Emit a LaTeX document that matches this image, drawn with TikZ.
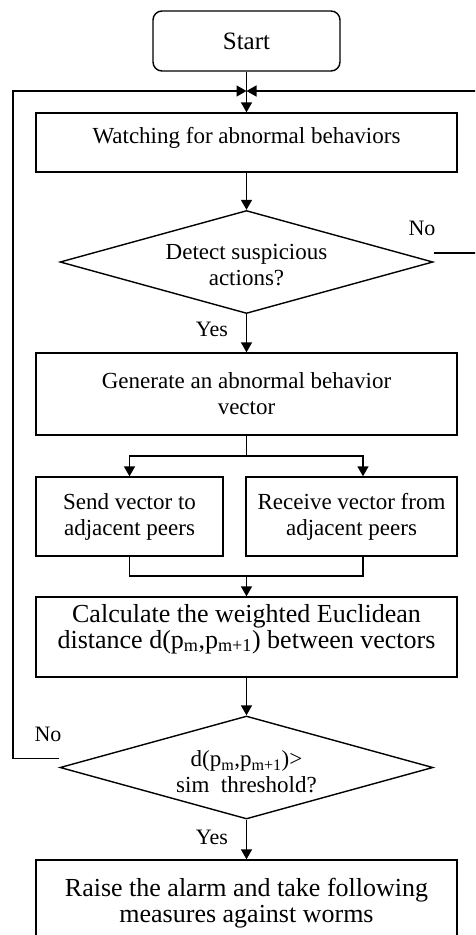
\documentclass[tikz,border=0pt]{standalone}
\usepackage{fontspec}
\setmainfont{Liberation Serif}
\usetikzlibrary{arrows.meta,shapes.geometric}
\begin{document}
\begin{tikzpicture}[x=1pt,y=-1pt,line width=1.4pt,
  box/.style={draw,rectangle,inner sep=0pt,align=center,font=\fontsize{23}{26}\selectfont},
  dia/.style={draw,diamond,inner sep=0pt},
  txt/.style={inner sep=0pt,align=center,font=\fontsize{23}{26}\selectfont},
  big/.style={font=\fontsize{26}{26}\selectfont},
  lbl/.style={inner sep=0pt,font=\fontsize{22}{24}\selectfont},
  arr/.style={-{Triangle[length=10pt,width=11pt]}}]
\clip (0,0) rectangle (475,935);
% nodes
\node[box,rounded corners=9pt,minimum width=187pt,minimum height=60pt,font=\fontsize{25}{28}\selectfont] (start) at (246.5,41) {Start};
\node[box,minimum width=421pt,minimum height=59pt] (watch) at (246.5,142.5) {};
\node[txt] (watcht) at ([yshift=5pt]watch.center) {Watching for abnormal behaviors};
\node[dia,minimum width=373pt,minimum height=103pt] (d1) at (246.5,262) {};
\node[txt] (d1t) at ([yshift=-3pt]d1.center) {Detect suspicious\\actions?};
\node[box,minimum width=421pt,minimum height=82pt] (gen) at (246.5,394) {Generate an abnormal behavior\\vector};
\node[box,minimum width=187pt,minimum height=79pt] (send) at (129.5,516.5) {Send vector to\\adjacent peers};
\node[box,minimum width=211pt,minimum height=79pt] (recv) at (351.5,516.5) {Receive vector from\\adjacent peers};
\node[box,minimum width=421pt,minimum height=80pt] (calc) at (246.5,637) {};
\node[txt,big] (calct) at ([yshift=8pt]calc.center) {Calculate the weighted Euclidean\\distance d(p\textsubscript{m},p\textsubscript{m+1}) between vectors};
\node[dia,minimum width=373pt,minimum height=103pt] (d2) at (246.5,767.5) {};
\node[txt] (d2t) at ([yshift=-4.5pt]d2.center) {d(p\textsubscript{m},p\textsubscript{m+1})>\\sim\ \ threshold?};
\node[box,big,minimum width=421pt,minimum height=86pt] (final) at (246.5,903) {Raise the alarm and take following\\measures against worms};
% labels
\node[lbl] (no1) at (422,228) {No};
\node[lbl] (yes1) at (212,329) {Yes};
\node[lbl] (no2) at (48,734) {No};
\node[lbl] (yes2) at (212,837) {Yes};
% helper coordinates
\coordinate (m) at (246.5,91);
\coordinate (lt) at (13,91);
\coordinate (rt) at (481,91);
\coordinate (sp) at (246.5,456);
\coordinate (spr) at (363,456);
\coordinate (mg) at (246.5,576);
% connectors
\draw[arr] (start) -- (watch);
\draw[arr] (watch) -- (d1);
\draw[arr] (d1) -- (gen);
\draw (gen.south) -- (sp);
\draw[arr] (sp) -| (send.north);
\draw[arr] (sp) -| (spr |- recv.north);
\draw (send.south) |- (mg);
\draw (spr |- recv.south) |- (mg);
\draw[arr] (mg) -- (calc);
\draw[arr] (calc) -- (d2);
\draw[arr] (d2) -- (final);
\draw[arr] ([yshift=9pt]d2.west) -| (lt) -- (m);
\draw[arr] ([yshift=9pt]d1.east) -| (rt) -- (m);
\end{tikzpicture}
\end{document}
